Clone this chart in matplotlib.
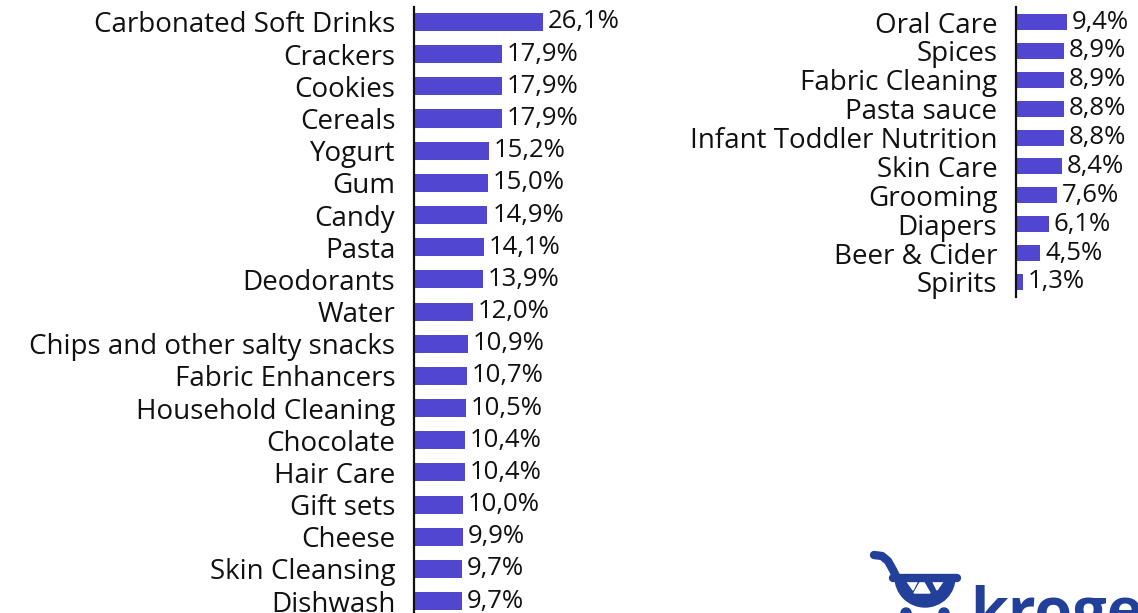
import matplotlib
matplotlib.use("Agg")
import matplotlib.pyplot as plt
from matplotlib.patches import Wedge, Polygon, Circle

plt.rcParams['font.family'] = ['Open Sans', 'DejaVu Sans']

left_categories = [
    "Carbonated Soft Drinks", "Crackers", "Cookies", "Cereals", "Yogurt", "Gum",
    "Candy", "Pasta", "Deodorants", "Water", "Chips and other salty snacks",
    "Fabric Enhancers", "Household Cleaning", "Chocolate", "Hair Care",
    "Gift sets", "Cheese", "Skin Cleansing", "Dishwash",
]
left_values = [26.1, 17.9, 17.9, 17.9, 15.2, 15.0, 14.9, 14.1, 13.9, 12.0,
               10.9, 10.7, 10.5, 10.4, 10.4, 10.0, 9.9, 9.7, 9.7]

right_categories = [
    "Oral Care", "Spices", "Fabric Cleaning", "Pasta sauce",
    "Infant Toddler Nutrition", "Skin Care", "Grooming", "Diapers",
    "Beer & Cider", "Spirits",
]
right_values = [9.4, 8.9, 8.9, 8.8, 8.8, 8.4, 7.6, 6.1, 4.5, 1.3]

BAR_COLOR = "#5046d0"
LOGO_COLOR = "#22409a"
W, H = 1138, 613
LABEL_FS = 20
VALUE_FS = 18.5

fig = plt.figure(figsize=(W / 100, H / 100), dpi=100)


def px_axes(x0, y0, x1, y1, **kw):
    """Axes placed by a pixel box measured from the top-left corner."""
    return fig.add_axes([x0 / W, 1 - y1 / H, (x1 - x0) / W, (y1 - y0) / H], **kw)


def fmt(v):
    return f"{v:.1f}".replace(".", ",") + "%"


def bar_panel(ax, cats, vals, xmax, ylim, height):
    n = len(cats)
    ax.barh(range(n), vals, height=height, color=BAR_COLOR, zorder=2)
    ax.set_xlim(0, xmax)
    ax.set_ylim(*ylim)
    ax.set_yticks(range(n), cats)
    ax.tick_params(axis="y", length=0, pad=13.5, labelsize=LABEL_FS,
                   labelcolor="#111111")
    ax.set_xticks([])
    for s in ("top", "right", "bottom"):
        ax.spines[s].set_visible(False)
    ax.spines["left"].set_linewidth(1.6)
    ax.spines["left"].set_color("#111111")
    ax.patch.set_alpha(0)
    for i, v in enumerate(vals):
        ax.annotate(fmt(v), (v, i), xytext=(3.5, 0), textcoords="offset points",
                    va="center", ha="left", fontsize=VALUE_FS, color="#111111")


# left panel: 19 rows, pitch ~32.2 px, runs past the bottom edge
pitch_l = 32.17
top_l = 7
ax_l = px_axes(414, top_l, 614, top_l + pitch_l * (0.466 + 19))
bar_panel(ax_l, left_categories, left_values, 200 / 4.93, (19, -0.466), 0.56)

# right panel: 10 rows, pitch ~28.9 px
ax_r = px_axes(1016, 7, 1138, 297)
bar_panel(ax_r, right_categories, right_values, 122 / 5.42, (9.52, -0.52), 0.55)

# logo in the lower right corner, drawn in pixel coordinates
lg = fig.add_axes([0, 0, 1, 1], zorder=-1)
lg.set_xlim(0, W)
lg.set_ylim(H, 0)
lg.axis("off")
lg.add_patch(Wedge((925, 577), 30, 0, 180, color=LOGO_COLOR))
for tri in ([(906, 580), (918, 580), (913, 590)],
            [(922, 579), (914, 593), (930, 593)],
            [(932, 580), (944, 580), (937, 590)]):
    lg.add_patch(Polygon(tri, closed=True, color="white"))
lg.plot([874, 882, 888, 893, 897], [555, 556, 561, 570, 578],
        color=LOGO_COLOR, lw=6, solid_capstyle="round")
lg.plot([893, 957], [578, 578], color=LOGO_COLOR, lw=6, solid_capstyle="round")
lg.add_patch(Circle((906, 613), 5, color=LOGO_COLOR))
lg.add_patch(Circle((944, 613), 5, color=LOGO_COLOR))
lg.text(970, 631, "kroger", fontsize=44, fontweight="bold", color=LOGO_COLOR,
        family=["Open Sans", "DejaVu Sans"], ha="left", va="baseline")

fig.savefig("out.png", dpi=100)
